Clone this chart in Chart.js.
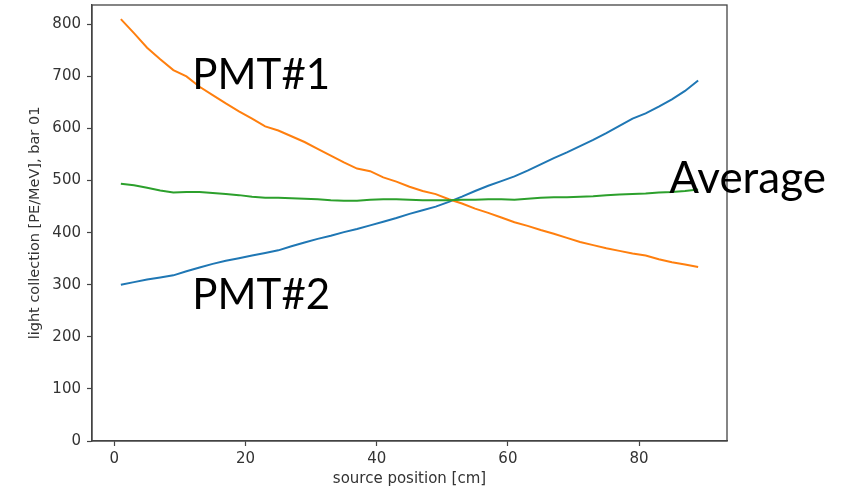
<!DOCTYPE html>
<html>
<head>
<meta charset="utf-8">
<script src="https://cdn.jsdelivr.net/npm/chart.js@4.4.1/dist/chart.umd.min.js"></script>
<style>
  html, body { margin: 0; padding: 0; background: #fff; }
  #wrap { width: 851px; height: 489px; }
</style>
</head>
<body>
<div id="wrap"><canvas id="chart" width="851" height="489"></canvas></div>
<script>
// source position [cm]
var positions = [1, 3, 5, 7, 9, 11, 13, 15, 17, 19, 21, 23, 25, 27, 29, 31, 33, 35, 37, 39, 41, 43, 45,
                 47, 49, 51, 53, 55, 57, 59, 61, 63, 65, 67, 69, 71, 73, 75, 77, 79, 81, 83, 85, 87, 89];

var pmt1 = [810, 783, 755, 733, 712, 700, 680, 664, 648, 633, 619, 604, 596, 585, 574, 561, 548, 535, 523, 518, 506, 498, 488,
            480, 474, 464, 456, 446, 438, 429, 420, 413, 405, 398, 390, 382, 376, 370, 365, 360, 356, 349, 343, 339, 334];

var pmt2 = [300, 305, 310, 314, 318, 326, 333, 340, 346, 351, 356, 361, 366, 374, 381, 388, 394, 401, 407, 414, 421, 428, 436,
            443, 450, 459, 469, 480, 490, 499, 508, 519, 531, 543, 554, 566, 578, 591, 605, 619, 629, 642, 656, 672, 692];

var average = [494, 491, 486, 481, 477, 478, 478, 476, 474, 472, 469, 467, 467, 466, 465, 464, 462, 461, 461, 463, 464, 464, 463,
               462, 462, 462, 463, 463, 464, 464, 463, 465, 467, 468, 468, 469, 470, 472, 473, 474, 475, 477, 478, 480, 483];

var xTicks = [0, 20, 40, 60, 80];
var yTicks = [0, 100, 200, 300, 400, 500, 600, 700, 800];

function pts(ys) {
    return positions.map(function (x, i) { return { x: x, y: ys[i] }; });
}

// frame around the plot + the big text labels
var framePlugin = {
    id: 'frame',
    afterDatasetsDraw: function (chart) {
        var ctx = chart.ctx, a = chart.chartArea;
        ctx.save();
        ctx.strokeStyle = '#444';
        ctx.lineWidth = 1.3;
        ctx.strokeRect(a.left, a.top, a.right - a.left, a.bottom - a.top);
        ctx.restore();
    },
    afterDraw: function (chart) {
        var ctx = chart.ctx;
        var xs = chart.scales.x, ys = chart.scales.y;
        var notes = [
            { text: 'PMT#1', x: 11.9, y: 676, size: 42 },
            { text: 'PMT#2', x: 11.9, y: 253, size: 42 },
            { text: 'Average', x: 84.6, y: 476, size: 44 }
        ];
        ctx.save();
        ctx.fillStyle = '#000';
        ctx.textBaseline = 'alphabetic';
        ctx.textAlign = 'left';
        notes.forEach(function (n) {
            ctx.font = n.size + 'px Lato';
            ctx.fillText(n.text, xs.getPixelForValue(n.x), ys.getPixelForValue(n.y));
        });
        ctx.restore();
    }
};

var tickFont = { family: 'DejaVu Sans', size: 15 };
var axisColor = '#333';

new Chart(document.getElementById('chart'), {
    type: 'line',
    data: {
        datasets: [
            { label: 'Average', data: pts(average), borderColor: '#2ca02c', order: 0 },
            { label: 'PMT#1', data: pts(pmt1), borderColor: '#ff7f0e', order: 1 },
            { label: 'PMT#2', data: pts(pmt2), borderColor: '#1f77b4', order: 2 }
        ]
    },
    options: {
        responsive: false,
        animation: false,
        layout: { padding: { left: 0, right: 124, top: 5, bottom: 0 } },
        elements: {
            point: { radius: 0 },
            line: { borderWidth: 2, tension: 0, fill: false }
        },
        plugins: {
            legend: { display: false },
            tooltip: { enabled: false }
        },
        scales: {
            x: {
                type: 'linear',
                min: -3.4,
                max: 93.4,
                afterBuildTicks: function (s) { s.ticks = xTicks.map(function (v) { return { value: v }; }); },
                afterFit: function (s) { s.height = 48; s.paddingLeft = 0; s.paddingRight = 0; },
                ticks: { font: tickFont, color: axisColor, padding: 4, maxRotation: 0 },
                grid: { drawOnChartArea: false, tickLength: 5, tickColor: '#444', tickWidth: 1.2 },
                border: { color: '#444', width: 1.3 },
                title: { display: true, text: 'source position [cm]', font: { family: 'DejaVu Sans', size: 15 }, color: axisColor, padding: { top: 0, bottom: 1 } }
            },
            y: {
                type: 'linear',
                min: 0,
                max: 837,
                afterBuildTicks: function (s) { s.ticks = yTicks.map(function (v) { return { value: v }; }); },
                afterFit: function (s) { s.width = 92; s.paddingTop = 0; s.paddingBottom = 0; },
                ticks: { font: tickFont, color: axisColor, padding: 6 },
                grid: { drawOnChartArea: false, tickLength: 5, tickColor: '#444', tickWidth: 1.2 },
                border: { color: '#444', width: 1.3 },
                title: { display: true, text: 'light collection [PE/MeV], bar 01', font: { family: 'DejaVu Sans', size: 14.5 }, color: axisColor, padding: { top: 27, bottom: 0 } }
            }
        }
    },
    plugins: [framePlugin]
});
</script>
</body>
</html>
